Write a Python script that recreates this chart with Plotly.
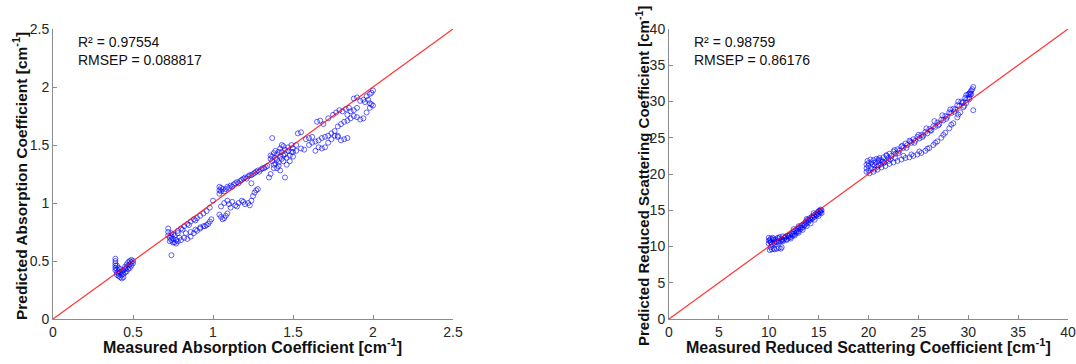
import plotly.graph_objects as go

# ---------------- Left panel: absorption coefficient [cm^-1] ----------------
abs_measured = [
    0.39, 0.39, 0.39, 0.39, 0.39, 0.39, 0.40, 0.40, 0.41, 0.41, 0.41, 0.42, 0.42, 0.43, 0.43, 0.43,
    0.44, 0.44, 0.44, 0.45, 0.45, 0.45, 0.46, 0.46, 0.46, 0.47, 0.47, 0.47, 0.48, 0.48, 0.48, 0.49,
    0.49, 0.49, 0.50, 0.50, 0.40, 0.40, 0.42, 0.41,
    0.72, 0.72, 0.72, 0.73, 0.73, 0.74, 0.74, 0.75, 0.75, 0.76, 0.77, 0.77, 0.78, 0.79, 0.74,
    0.75, 0.78, 0.80, 0.82, 0.84, 0.86, 0.88, 0.90, 0.92, 0.94, 0.96, 0.98, 1.00, 0.81, 0.85, 0.89,
    0.74, 0.76, 0.78, 0.80, 0.82, 0.84, 0.86, 0.88, 0.90, 0.92, 0.94, 0.96, 0.98, 0.99,
    0.83, 0.86, 0.89, 0.92, 0.95, 0.97,
    1.04, 1.04, 1.04, 1.05, 1.05, 1.06, 1.07, 1.08, 1.09, 1.10, 1.11, 1.12, 1.13, 1.14, 1.15, 1.16,
    1.17, 1.18, 1.19, 1.20, 1.21, 1.22, 1.23, 1.24, 1.25, 1.26, 1.27, 1.28, 1.29, 1.30, 1.31, 1.32,
    1.33, 1.34,
    1.04, 1.05, 1.06, 1.07, 1.08, 1.09, 1.05, 1.07, 1.09, 1.10, 1.12, 1.14, 1.16, 1.18, 1.20, 1.22,
    1.24, 1.25, 1.26, 1.27, 1.28, 1.24, 1.11, 1.15, 1.19, 1.23,
    1.36, 1.36, 1.37, 1.37, 1.37, 1.38, 1.38, 1.39, 1.39, 1.40, 1.40, 1.40, 1.41, 1.41, 1.42, 1.42,
    1.42, 1.43, 1.43, 1.44, 1.44, 1.45, 1.45, 1.45, 1.46, 1.46, 1.47, 1.47, 1.48, 1.48, 1.49, 1.49,
    1.50, 1.36, 1.35, 1.38, 1.41, 1.44, 1.39, 1.43,
    1.50, 1.52, 1.53, 1.55, 1.58, 1.60, 1.62, 1.65, 1.67, 1.69, 1.72, 1.75, 1.77, 1.79, 1.81, 1.83,
    1.85, 1.88, 1.90, 1.92, 1.94, 1.96, 1.98, 2.00, 1.99,
    1.50, 1.52, 1.55, 1.57, 1.60, 1.62, 1.64, 1.66, 1.68, 1.70, 1.72, 1.74, 1.76, 1.78,
    1.64, 1.66, 1.68, 1.70, 1.72, 1.74, 1.78, 1.80, 1.82, 1.84,
    1.76, 1.78, 1.80, 1.82, 1.84, 1.86, 1.88, 1.90, 1.92, 1.94, 1.96, 1.98, 1.99, 2.00, 1.98, 1.86,
    1.88, 1.84, 1.90, 1.95, 1.97,
]
abs_predicted = [
    0.52, 0.50, 0.48, 0.46, 0.44, 0.42, 0.40, 0.38, 0.41, 0.39, 0.37, 0.40, 0.36, 0.35, 0.38, 0.41,
    0.36, 0.39, 0.42, 0.40, 0.43, 0.45, 0.41, 0.44, 0.47, 0.43, 0.46, 0.49, 0.44, 0.47, 0.50, 0.46,
    0.49, 0.51, 0.48, 0.50, 0.43, 0.46, 0.43, 0.44,
    0.78, 0.75, 0.72, 0.70, 0.67, 0.74, 0.71, 0.69, 0.66, 0.72, 0.68, 0.65, 0.74, 0.70, 0.55,
    0.73, 0.76, 0.78, 0.80, 0.82, 0.84, 0.86, 0.87, 0.89, 0.91, 0.93, 0.96, 1.02, 0.77, 0.81, 0.85,
    0.68, 0.66, 0.67, 0.68, 0.70, 0.69, 0.71, 0.74, 0.76, 0.78, 0.80, 0.81, 0.84, 0.86,
    0.74, 0.75, 0.77, 0.79, 0.80, 0.82,
    1.08, 1.11, 1.14, 1.10, 1.13, 1.12, 1.10, 1.12, 1.14, 1.13, 1.15, 1.14, 1.16, 1.17, 1.18, 1.17,
    1.19, 1.20, 1.21, 1.22, 1.21, 1.23, 1.24, 1.24, 1.25, 1.26, 1.27, 1.28, 1.27, 1.29, 1.30, 1.30,
    1.31, 1.32,
    0.90, 0.88, 0.86, 0.87, 0.89, 0.91, 0.97, 1.00, 1.02, 0.99, 1.01, 0.98, 1.00, 1.02, 0.99, 1.00,
    1.02, 1.06, 1.09, 1.11, 1.12, 1.17, 0.96, 0.97, 1.01, 0.98,
    1.38, 1.41, 1.36, 1.40, 1.56, 1.43, 1.33, 1.39, 1.45, 1.37, 1.42, 1.30, 1.44, 1.35, 1.47, 1.40,
    1.28, 1.38, 1.44, 1.49, 1.36, 1.42, 1.22, 1.46, 1.39, 1.33, 1.45, 1.48, 1.41, 1.36, 1.44, 1.50,
    1.40, 1.25, 1.22, 1.30, 1.32, 1.41, 1.34, 1.50,
    1.47, 1.50, 1.60, 1.61, 1.55, 1.56, 1.57, 1.70, 1.71, 1.68, 1.73, 1.76, 1.78, 1.80, 1.79, 1.81,
    1.82, 1.90, 1.91, 1.88, 1.89, 1.92, 1.94, 1.97, 1.95,
    1.44, 1.45, 1.47, 1.46, 1.50, 1.52, 1.53, 1.54, 1.56, 1.57, 1.58, 1.60, 1.58, 1.57,
    1.45, 1.48, 1.47, 1.48, 1.52, 1.55, 1.58, 1.54, 1.55, 1.56,
    1.62, 1.66, 1.68, 1.70, 1.71, 1.73, 1.75, 1.74, 1.72, 1.73, 1.78, 1.82, 1.85, 1.84, 1.86, 1.79,
    1.80, 1.76, 1.82, 1.87, 1.89,
]

# ---------------- Right panel: reduced scattering coefficient [cm^-1] ----------------
sca_measured = [
    10.0, 10.0, 10.0, 10.2, 10.2, 10.3, 10.4, 10.5, 10.5, 10.7, 10.8, 10.9, 11.0, 11.1, 11.2, 11.3,
    11.4, 11.5, 11.6, 11.7, 11.8, 11.9, 12.0,
    10.1, 10.3, 10.5, 10.2, 10.6, 11.0, 11.2, 11.3, 10.8,
    12.1, 12.2, 12.3, 12.4, 12.5, 12.6, 12.7, 12.8, 12.9, 13.0, 13.1, 13.2, 13.3, 13.4, 13.5, 13.6,
    13.7, 13.8, 13.9, 14.0, 14.1, 14.2, 14.3, 14.4, 14.5, 14.6, 14.7, 14.8, 14.9, 15.0, 15.1, 15.2,
    15.3, 15.2, 15.0, 14.5, 13.8, 13.0, 12.5,
    10.1, 10.4, 10.7, 11.0, 11.3, 11.6, 12.0, 12.4, 12.8, 13.2, 13.6, 14.0, 14.4, 14.8, 15.2,
    10.2, 10.6, 11.0, 11.4, 11.8, 12.2, 12.6, 13.0, 13.4, 13.8, 14.2, 14.6, 15.0, 15.3,
    19.8, 19.8, 19.8, 19.9, 20.0, 20.0, 20.2, 20.3, 20.4, 20.5, 20.6, 20.7, 20.8, 20.9, 21.0, 21.1,
    21.2, 21.3, 21.5, 21.6, 21.8, 22.0, 22.1, 22.3, 22.5, 22.7, 22.9, 23.1, 23.3, 23.5, 23.7, 23.9,
    24.1, 24.3, 24.5, 24.7, 24.9, 25.1, 25.3, 25.5, 25.7, 25.9, 26.1, 26.3, 26.5, 26.7, 26.9, 27.1,
    27.3, 27.5, 27.7, 27.9, 28.1, 28.3, 28.5, 28.7, 28.9, 29.1, 29.3, 29.5, 29.7, 29.9, 30.0, 30.1,
    30.2, 30.3, 30.4, 30.5, 30.3, 30.1,
    20.0, 20.6, 21.4, 22.2, 23.0, 23.8, 24.6, 25.4, 26.2, 27.0, 27.8, 28.6, 29.4, 30.2,
    20.3, 21.0, 21.8, 22.6, 23.4, 24.2, 25.0, 25.8, 26.6, 27.4, 28.2, 29.0, 29.8,
    20.1, 20.5, 20.9, 21.3, 21.7, 22.1, 22.5, 22.9, 23.3, 23.7, 24.1, 24.5, 24.9, 25.3, 25.7, 26.1,
    26.5, 26.9, 27.3, 27.7, 28.1, 28.5, 28.9, 29.2, 29.5, 29.8, 30.1,
    21.0, 21.5, 22.0, 22.7, 23.5, 24.3, 25.1, 25.9, 26.7, 27.5, 28.3, 29.0, 29.6,
    30.5,
]
sca_predicted = [
    11.2, 10.8, 10.4, 11.1, 10.6, 10.3, 11.2, 10.9, 10.5, 11.0, 10.6, 11.2, 10.8, 11.3, 10.7, 11.0,
    11.4, 10.9, 11.2, 11.4, 11.0, 11.5, 11.2,
    9.5, 9.6, 9.7, 9.9, 9.6, 9.8, 9.7, 9.9, 9.7,
    11.6, 11.3, 11.8, 11.5, 12.0, 11.7, 12.2, 11.9, 12.4, 12.1, 12.6, 12.4, 12.9, 12.6, 13.1, 12.9,
    13.4, 13.2, 13.7, 13.4, 13.9, 13.7, 14.1, 13.9, 14.3, 14.1, 14.5, 14.3, 14.7, 14.5, 14.9, 14.7,
    15.0, 15.1, 14.9, 14.6, 13.8, 12.8, 12.4,
    10.9, 11.0, 10.7, 11.1, 10.9, 11.2, 11.4, 11.7, 12.1, 12.6, 13.0, 13.6, 14.0, 14.4, 14.9,
    10.6, 10.5, 10.6, 10.7, 10.9, 11.1, 11.5, 11.9, 12.3, 12.8, 13.2, 13.7, 14.2, 14.6,
    20.3, 20.8, 21.3, 21.8, 20.5, 21.5, 22.0, 20.8, 21.3, 21.9, 20.6, 21.6, 22.1, 21.0, 21.8, 22.2,
    21.3, 21.9, 22.3, 21.6, 22.5, 22.2, 22.8, 22.5, 23.1, 22.8, 23.4, 23.2, 23.8, 23.6, 24.2, 24.0,
    24.6, 24.3, 24.8, 24.6, 25.1, 24.9, 25.4, 25.3, 25.8, 25.6, 26.2, 26.0, 26.6, 26.5, 27.1, 26.9,
    27.5, 27.4, 28.0, 27.9, 28.5, 28.4, 29.0, 28.9, 29.5, 29.4, 30.0, 29.9, 30.5, 30.4, 31.0, 30.6,
    31.3, 31.0, 31.7, 32.0, 31.5, 31.1,
    21.1, 21.2, 21.7, 22.0, 22.9, 23.6, 24.3, 25.1, 26.0, 26.7, 27.6, 28.6, 29.8, 31.0,
    21.6, 22.0, 22.6, 23.3, 23.9, 24.5, 25.4, 26.3, 27.3, 28.1, 28.9, 30.0, 30.9,
    20.1, 20.3, 20.6, 20.9, 21.1, 21.4, 21.6, 21.8, 22.0, 22.2, 22.3, 22.5, 22.7, 22.9, 23.2, 23.6,
    24.0, 24.5, 25.0, 25.7, 26.3, 27.0, 27.8, 28.5, 29.2, 29.8, 30.3,
    21.2, 21.5, 21.8, 22.2, 22.5, 22.7, 23.1, 23.5, 24.3, 25.4, 26.8, 28.2, 29.4,
    28.8,
]

abs_range = [0, 2.5]
abs_ticks = [0, 0.5, 1, 1.5, 2, 2.5]
abs_ticktext = ["0", "0.5", "1", "1.5", "2", "2.5"]
sca_range = [0, 40]
sca_ticks = [0, 5, 10, 15, 20, 25, 30, 35, 40]

FONT = "Arial, 'Liberation Sans', Helvetica, sans-serif"
marker = dict(symbol="circle-open", size=5, color="rgba(0,0,255,0.6)", line=dict(width=1))

fig = go.Figure()
fig.add_trace(go.Scatter(x=abs_measured, y=abs_predicted, mode="markers", marker=marker,
                         xaxis="x", yaxis="y", showlegend=False))
fig.add_trace(go.Scatter(x=abs_range, y=abs_range, mode="lines",
                         line=dict(color="rgba(255,0,0,0.8)", width=1.2),
                         xaxis="x", yaxis="y", showlegend=False))
fig.add_trace(go.Scatter(x=sca_measured, y=sca_predicted, mode="markers", marker=marker,
                         xaxis="x2", yaxis="y2", showlegend=False))
fig.add_trace(go.Scatter(x=sca_range, y=sca_range, mode="lines",
                         line=dict(color="rgba(255,0,0,0.8)", width=1.2),
                         xaxis="x2", yaxis="y2", showlegend=False))

W, H = 1076, 364
ydom = [1 - 319 / H, 1 - 29 / H]
axis_common = dict(showline=True, linecolor="#8c8c8c", linewidth=1, ticks="inside", ticklen=4,
                   tickcolor="#8c8c8c", showgrid=False, zeroline=False, automargin=False,
                   tickfont=dict(family=FONT, size=14, color="#262626"))

fig.update_layout(
    width=W, height=H, margin=dict(l=0, r=0, t=0, b=0, pad=0, autoexpand=False),
    paper_bgcolor="white", plot_bgcolor="white",
    font=dict(family=FONT),
    xaxis=dict(domain=[53 / W, 453 / W], range=abs_range, tickvals=abs_ticks, ticktext=abs_ticktext,
               anchor="y", **axis_common),
    yaxis=dict(domain=ydom, range=abs_range, tickvals=abs_ticks, ticktext=abs_ticktext,
               anchor="x", **axis_common),
    xaxis2=dict(domain=[669 / W, 1068 / W], range=sca_range, tickvals=sca_ticks,
                anchor="y2", **axis_common),
    yaxis2=dict(domain=ydom, range=sca_range, tickvals=sca_ticks, anchor="x2", **axis_common),
)

title_font = dict(family=FONT, size=16, color="#111111")
ytitle_font = dict(family=FONT, size=15.5, color="#111111")
ytitle_font_r = dict(family=FONT, size=15, color="#111111")
ctr = dict(xref="paper", yref="paper", showarrow=False, xanchor="center", yanchor="middle")
stat_font = dict(family=FONT, size=14, color="#111111")
ann = [
    dict(text="<b>Measured Absorption Coefficient [cm<sup>-1</sup>]</b>", x=252 / W, y=1 - 346 / H,
         font=title_font, **ctr),
    dict(text="<b>Predicted Absorption Coefficient [cm<sup>-1</sup>]</b>", x=20 / W, y=1 - 176 / H,
         textangle=-90, font=ytitle_font, **ctr),
    dict(text="<b>Measured Reduced Scattering Coefficient [cm<sup>-1</sup>]</b>", x=868 / W,
         y=1 - 346 / H, font=title_font, **ctr),
    dict(text="<b>Predicted Reduced Scattering Coefficient [cm<sup>-1</sup>]</b>", x=642 / W,
         y=1 - 176 / H, textangle=-90, font=ytitle_font_r, **ctr),
    dict(text="R² = 0.97554<br>RMSEP = 0.088817", x=76 / W, y=1 - 32 / H, xref="paper", yref="paper",
         xanchor="left", yanchor="top", align="left", showarrow=False, font=stat_font),
    dict(text="R² = 0.98759<br>RMSEP = 0.86176", x=692 / W, y=1 - 32 / H, xref="paper", yref="paper",
         xanchor="left", yanchor="top", align="left", showarrow=False, font=stat_font),
]
fig.update_layout(annotations=ann)

fig.write_html("out.html", config={"displayModeBar": False},
               post_script="document.body.style.margin='0';document.body.style.overflow='hidden';")
